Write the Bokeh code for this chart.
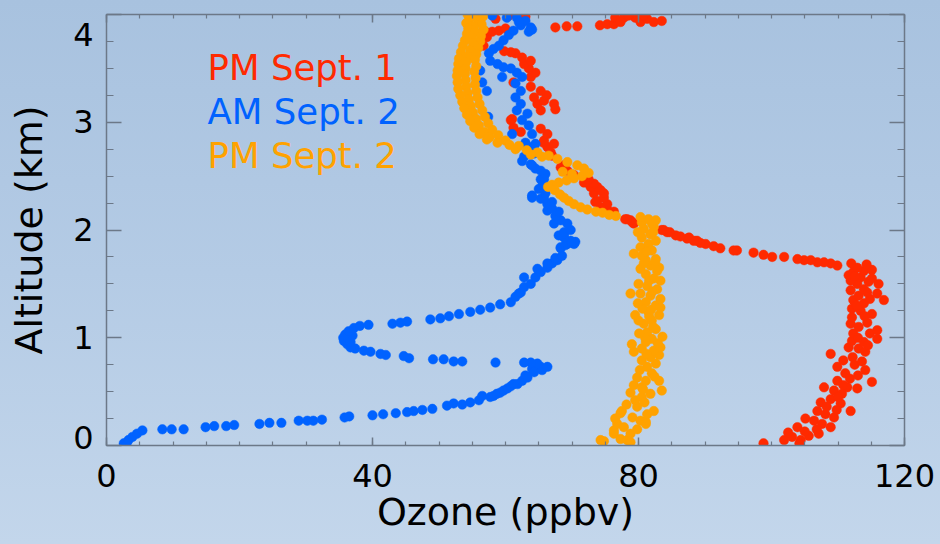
from bokeh.plotting import figure
from bokeh.models import LinearAxis, Range1d, Label, FixedTicker, ColumnDataSource, CustomLabelingPolicy
from bokeh.embed import file_html
from bokeh.resources import INLINE

# ---------------- data (ozone ppbv, altitude km) ----------------
series_names = ["PM Sept. 1", "AM Sept. 2", "PM Sept. 2"]
series_colors = ["#ff2a00", "#0062ff", "#ffa200"]

pm_sept1 = [
    (98.8, 0.02), (101.9, 0.05), (103.1, 0.08), (104.4, 0.05), (105.6, 0.09), (107.1, 0.11), (103.9, 0.17),
    (105.1, 0.25), (106.4, 0.23), (107.6, 0.20), (108.9, 0.17), (106.9, 0.32), (108.1, 0.29), (109.4, 0.26),
    (107.4, 0.40), (108.9, 0.43), (110.4, 0.39), (111.9, 0.32), (109.4, 0.51), (110.6, 0.48), (107.9, 0.54),
    (111.4, 0.54), (112.9, 0.53), (109.9, 0.60), (111.1, 0.67), (115.1, 0.59), (114.1, 0.70), (109.9, 0.73),
    (108.9, 0.85), (110.8, 0.79), (112.2, 0.82), (113.1, 0.90), (114.1, 0.87), (111.6, 0.91), (112.1, 0.97),
    (113.9, 0.96), (115.9, 0.99), (114.8, 1.04), (115.9, 1.07), (112.3, 1.04), (111.9, 1.13), (113.1, 1.10),
    (114.4, 1.14), (115.1, 1.22), (112.1, 1.19), (113.4, 1.25), (112.1, 1.27), (113.9, 1.32), (112.3, 1.35),
    (113.1, 1.39), (114.8, 1.36), (116.9, 1.35), (115.9, 1.41), (111.9, 1.44), (113.9, 1.45), (112.9, 1.50),
    (114.6, 1.52), (116.1, 1.50), (111.9, 1.53), (113.4, 1.56), (115.1, 1.55), (112.3, 1.61), (113.9, 1.62),
    (115.1, 1.63), (112.9, 1.65), (111.6, 1.58), (105.0, 0.13), (106.8, 0.15), (108.3, 0.36), (110.0, 0.45),
    (111.8, 0.62), (113.0, 0.65), (112.5, 0.75), (113.6, 0.78), (114.5, 0.93), (113.0, 1.00), (114.0, 1.20),
    (112.8, 1.30), (114.4, 1.42), (112.5, 1.57), (114.3, 1.68), (112.0, 1.69), (104.2, 0.02), (102.5, 0.12),
    (109.8, 0.33), (110.8, 0.56),
    (109.9, 1.67), (108.9, 1.69), (107.9, 1.70), (106.9, 1.70), (105.9, 1.72), (104.9, 1.72), (103.9, 1.73),
    (101.9, 1.75), (100.1, 1.75), (98.8, 1.77), (97.3, 1.79), (94.8, 1.81), (94.3, 1.81), (92.3, 1.83),
    (91.3, 1.85), (90.1, 1.87), (89.3, 1.88), (88.8, 1.90), (88.3, 1.90), (87.6, 1.93), (87.3, 1.92),
    (86.3, 1.94), (85.6, 1.95), (84.7, 1.98), (84.3, 1.98), (83.8, 2.00), (83.5, 2.00),
    (79.3, 2.06), (79.1, 2.07), (78.8, 2.09), (78.3, 2.10), (78.0, 2.10), (76.3, 2.17), (75.3, 2.19),
    (75.3, 2.24), (74.3, 2.21), (73.5, 2.26), (73.8, 2.27), (74.8, 2.30), (74.8, 2.34), (73.3, 2.34),
    (74.3, 2.37), (73.8, 2.40), (72.8, 2.40), (72.3, 2.44), (71.8, 2.44), (73.3, 2.43), (72.5, 2.47),
    (70.3, 2.51), (69.3, 2.55), (68.8, 2.60), (68.3, 2.58), (67.0, 2.69), (66.8, 2.72), (66.3, 2.77),
    (65.7, 2.81),
    (67.3, 2.80), (65.8, 2.83), (66.3, 2.89), (65.3, 2.94), (62.3, 2.91), (61.2, 2.95), (60.8, 3.02),
    (61.0, 3.03), (65.3, 3.11), (64.8, 3.17), (65.8, 3.20), (67.3, 3.17), (67.5, 3.12), (66.2, 3.25),
    (64.3, 3.23), (65.3, 3.29), (63.8, 3.33), (61.2, 3.37), (63.8, 3.42), (64.5, 3.46), (63.5, 3.50),
    (62.8, 3.54), (63.8, 3.57), (62.5, 3.60), (61.5, 3.64), (60.8, 3.65), (59.8, 3.66), (56.7, 3.71),
    (57.2, 3.79), (57.0, 3.84), (58.0, 3.84), (59.0, 3.85), (60.0, 3.87),
    (67.5, 3.88), (69.2, 3.89), (70.8, 3.89), (74.2, 3.90), (75.3, 3.91), (76.3, 3.91), (76.5, 3.97),
    (77.8, 3.97), (79.5, 3.97), (80.3, 3.93), (81.3, 3.96), (82.3, 3.93), (83.5, 3.94), (77.3, 3.93),
    (78.5, 3.99), (80.8, 3.99), (60.5, 3.99), (63.0, 3.98), (58.5, 3.96),
]

am_sept2 = [
    (2.6, 0.02), (3.0, 0.01), (3.3, 0.05), (3.9, 0.08), (4.6, 0.11), (5.4, 0.14), (8.4, 0.15), (9.8, 0.15),
    (11.6, 0.15), (14.9, 0.17), (16.2, 0.18), (18.0, 0.18), (19.2, 0.19), (23.0, 0.20), (24.5, 0.21),
    (26.3, 0.21), (28.9, 0.23), (30.2, 0.23), (31.1, 0.23), (32.4, 0.24), (35.8, 0.26), (36.5, 0.27),
    (40.0, 0.28), (41.6, 0.29), (43.5, 0.30), (45.2, 0.31), (46.2, 0.32), (47.5, 0.33), (49.0, 0.34),
    (51.2, 0.37), (52.2, 0.39), (53.5, 0.38), (54.7, 0.40), (56.0, 0.42), (56.5, 0.46), (57.7, 0.45),
    (58.2, 0.46), (58.7, 0.48), (59.2, 0.49), (59.7, 0.51), (60.3, 0.53), (60.8, 0.55), (61.2, 0.57),
    (61.8, 0.57), (62.5, 0.60), (63.0, 0.65), (63.3, 0.63), (64.0, 0.71), (64.3, 0.68), (65.3, 0.73),
    (65.5, 0.70), (66.3, 0.73), (64.8, 0.76), (63.8, 0.77), (62.8, 0.77),
    (58.5, 0.77), (53.5, 0.78), (52.2, 0.78), (50.7, 0.80), (49.1, 0.80), (45.5, 0.81), (44.7, 0.83),
    (42.0, 0.84), (41.2, 0.85), (39.7, 0.87), (38.7, 0.88), (37.4, 0.90), (36.7, 0.91), (36.2, 0.94),
    (35.7, 0.97), (35.6, 1.00), (36.3, 0.99), (36.7, 0.96), (37.0, 1.02), (35.9, 1.03), (36.4, 1.06),
    (37.2, 1.09), (38.1, 1.11), (39.4, 1.12),
    (43.0, 1.13), (44.2, 1.14), (45.2, 1.15), (48.7, 1.17), (50.2, 1.18), (51.5, 1.20), (53.0, 1.22),
    (54.7, 1.24), (56.2, 1.26), (57.7, 1.28), (59.2, 1.31), (60.8, 1.33), (61.5, 1.38), (62.0, 1.41),
    (62.3, 1.42), (62.8, 1.47), (63.8, 1.50), (62.8, 1.56), (64.5, 1.56), (65.3, 1.61), (64.8, 1.64),
    (66.3, 1.65), (67.0, 1.69), (66.3, 1.69), (67.8, 1.72), (67.5, 1.74), (68.5, 1.76), (68.3, 1.83),
    (68.3, 1.84), (69.0, 1.86), (69.3, 1.87), (70.3, 1.87), (70.5, 1.89), (69.8, 1.90), (68.8, 1.93),
    (68.0, 1.95), (68.8, 1.96), (68.8, 1.98), (69.8, 2.00), (67.3, 2.06), (69.3, 2.06), (68.3, 2.09),
    (67.5, 2.13), (68.0, 2.17), (66.3, 2.18), (67.0, 2.20), (66.3, 2.24), (67.0, 2.26), (65.8, 2.29),
    (65.3, 2.29), (64.0, 2.30), (64.0, 2.32), (66.0, 2.34), (65.0, 2.38), (65.6, 2.42), (65.3, 2.47),
    (65.8, 2.47), (66.0, 2.52), (64.5, 2.57), (65.3, 2.55), (64.0, 2.60), (63.8, 2.61), (62.5, 2.64),
    (64.3, 2.71), (62.8, 2.68), (63.5, 2.77), (63.0, 2.81), (64.5, 2.80),
    (64.0, 2.89), (61.0, 2.89), (63.5, 2.97), (62.5, 3.02), (57.4, 3.05), (63.3, 3.08), (61.7, 3.11),
    (62.3, 3.17), (61.5, 3.23), (62.3, 3.29), (57.2, 3.29), (61.5, 3.36), (56.5, 3.37), (62.5, 3.42),
    (59.5, 3.42), (61.7, 3.46), (56.2, 3.48), (60.8, 3.50), (59.7, 3.51), (58.8, 3.54), (57.7, 3.57),
    (57.5, 3.64), (58.2, 3.68), (59.0, 3.71), (59.7, 3.76), (60.5, 3.81), (61.2, 3.85), (62.3, 3.90),
    (63.8, 3.88), (63.0, 3.94), (61.7, 3.97), (60.2, 3.97), (58.0, 3.99), (63.5, 3.84), (64.0, 3.86),
    (62.0, 3.93),
]

pm_sept2 = [
    (54.3, 4.00), (55.6, 3.99), (56.6, 3.98), (54.6, 3.96), (55.9, 3.94), (54.1, 3.92), (56.4, 3.91),
    (55.2, 3.89), (54.4, 3.87), (56.7, 3.86), (55.5, 3.84), (54.2, 3.82), (56.3, 3.80), (55.0, 3.78),
    (53.9, 3.76), (56.2, 3.75), (55.1, 3.73), (53.6, 3.71), (55.9, 3.69), (54.7, 3.67), (53.3, 3.65),
    (55.6, 3.63), (54.3, 3.61), (53.0, 3.59), (55.4, 3.58), (54.1, 3.56), (52.9, 3.54), (55.6, 3.52),
    (54.0, 3.50), (52.8, 3.48), (55.3, 3.47), (53.9, 3.45), (52.7, 3.43), (55.5, 3.41), (54.0, 3.39),
    (52.8, 3.37), (55.4, 3.35), (54.1, 3.33), (52.9, 3.31), (55.6, 3.29), (54.3, 3.27), (53.2, 3.25),
    (55.8, 3.23), (54.5, 3.21), (53.5, 3.19), (56.1, 3.17), (54.8, 3.15), (53.8, 3.13), (56.5, 3.11),
    (55.1, 3.09), (54.2, 3.07), (56.9, 3.05), (55.6, 3.03), (54.7, 3.01), (57.4, 2.99), (56.0, 2.97),
    (55.3, 2.95), (58.0, 2.93), (56.8, 2.91), (56.1, 2.89), (58.9, 2.88), (57.6, 2.86), (57.2, 2.84),
    (60.0, 2.83), (58.8, 2.81), (60.6, 2.79), (62.0, 2.78), (61.5, 2.75), (63.2, 2.74), (64.8, 2.72),
    (66.5, 2.69), (67.8, 2.66), (69.3, 2.63), (70.8, 2.60), (71.8, 2.57), (72.5, 2.53), (71.5, 2.50),
    (70.3, 2.48), (69.2, 2.46), (68.0, 2.44), (67.0, 2.42), (66.4, 2.40), (67.4, 2.37), (68.2, 2.33),
    (68.8, 2.30), (69.5, 2.27), (70.3, 2.24), (71.3, 2.21), (72.3, 2.19), (73.6, 2.17), (74.6, 2.16),
    (75.6, 2.14), (76.6, 2.13), (70.0, 2.52), (68.6, 2.54), (65.5, 2.68), (63.8, 2.70),
    (74.3, 0.05), (74.8, 0.04), (76.3, 0.11), (77.3, 0.06), (78.3, 0.05), (78.8, 0.03), (78.8, 0.11),
    (76.3, 0.14), (76.8, 0.20), (77.8, 0.17), (76.5, 0.25), (77.5, 0.32), (77.3, 0.30), (79.1, 0.26),
    (80.3, 0.23), (81.1, 0.22), (81.1, 0.20), (79.8, 0.36), (81.3, 0.29), (82.3, 0.32), (79.5, 0.42),
    (80.5, 0.45), (81.8, 0.48), (78.8, 0.49), (79.3, 0.56), (80.5, 0.54), (83.5, 0.51), (79.8, 0.63),
    (81.1, 0.60), (82.0, 0.67), (83.1, 0.60), (81.3, 0.73), (82.6, 0.76), (80.5, 0.79), (81.8, 0.82),
    (83.1, 0.84), (79.3, 0.87), (80.5, 0.90), (82.3, 0.88), (83.3, 0.91), (79.0, 0.94), (81.1, 0.96),
    (82.0, 0.99), (83.6, 1.01), (81.3, 1.05), (82.6, 1.08), (80.8, 1.13), (82.0, 1.16), (80.0, 1.16),
    (83.1, 1.21), (81.5, 1.24), (79.5, 1.21), (82.6, 1.30), (81.1, 1.33), (83.3, 1.28), (83.3, 1.36),
    (81.8, 1.39), (80.3, 1.41), (78.8, 1.41), (82.8, 1.45), (81.3, 1.48), (80.0, 1.50), (82.3, 1.55),
    (83.3, 1.53), (81.1, 1.59), (82.8, 1.62), (80.3, 1.64), (83.1, 1.65), (81.8, 1.67), (81.1, 1.72),
    (82.6, 1.73), (80.5, 1.76), (79.3, 1.78), (82.0, 1.81), (80.3, 1.84), (81.5, 1.87), (82.6, 1.90),
    (80.5, 1.93), (81.8, 1.96), (80.8, 2.01), (82.3, 2.03), (80.5, 2.07), (82.0, 2.06), (81.5, 2.10),
    (82.6, 2.09), (80.3, 2.12), (81.0, 1.00), (82.2, 1.10), (81.6, 1.20), (80.6, 1.27), (82.1, 1.43),
    (81.6, 1.53), (80.8, 1.69), (81.2, 1.80), (82.2, 1.98), (81.2, 0.85), (80.2, 0.70), (82.4, 0.64),
    (80.9, 0.40), (78.2, 0.38), (79.8, 0.15), (80.7, 0.52), (82.9, 0.95), (80.1, 1.04), (81.9, 1.26),
    (79.9, 1.32), (82.5, 1.70), (79.9, 1.98),
]

x_ticks = [0, 40, 80, 120]
y_ticks = [0, 1, 2, 3, 4]
x_label = "Ozone (ppbv)"
y_label = "Altitude (km)"

# ---------------- figure ----------------
FONT = "DejaVu Sans"
AX = "#6c7888"

p = figure(width=940, height=544, x_range=Range1d(0, 120), y_range=Range1d(0, 4),
           output_backend="svg", toolbar_location=None,
           min_border_left=106, min_border_right=36, min_border_top=14, min_border_bottom=99)
p.background_fill_alpha = 0
p.border_fill_alpha = 0
p.outline_line_color = None
p.grid.visible = False
p.styles = {"background": "linear-gradient(to bottom, #a8c2df 0%, #b4cbe5 50%, #c3d6eb 100%)"}

xt = FixedTicker(ticks=x_ticks, minor_ticks=[v * 5 for v in range(0, 25)])
yt = FixedTicker(ticks=y_ticks, minor_ticks=[v * 0.25 for v in range(0, 17)])

hide_all = CustomLabelingPolicy(code="""
for (const i of Array.from(indices)) { indices.unset(i) }
return indices
""")


def style(ax, major_in, minor_in, show_labels):
    ax.axis_line_color = AX
    ax.axis_line_width = 1.5
    ax.major_tick_line_color = AX
    ax.minor_tick_line_color = AX
    ax.major_tick_line_width = 1.5
    ax.minor_tick_line_width = 1.2
    ax.major_tick_in = major_in
    ax.major_tick_out = 0
    ax.minor_tick_in = minor_in
    ax.minor_tick_out = 0
    if show_labels:
        ax.major_label_text_font = FONT
        ax.major_label_text_font_size = "32px"
        ax.major_label_text_color = "black"
        ax.axis_label_text_font = FONT
        ax.axis_label_text_font_style = "normal"
        ax.axis_label_text_color = "black"
    else:
        ax.major_label_text_font_size = "1px"
        ax.major_label_standoff = 0
        ax.major_label_policy = hide_all


xa = p.xaxis[0]
xa.ticker = xt
style(xa, 8, 4, True)
xa.major_label_standoff = 18
xa.axis_label = x_label
xa.axis_label_text_font_size = "38px"
xa.axis_label_standoff = 0

ya = p.yaxis[0]
ya.ticker = yt
style(ya, 15, 7, True)
ya.major_label_standoff = 13
ya.major_label_text_line_height = 0.42
ya.major_label_overrides = {4: "\n4", 0: "0\n"}
ya.axis_label = y_label
ya.axis_label_text_font_size = "38px"
ya.axis_label_standoff = 19

top = LinearAxis(ticker=xt)
style(top, 8, 4, False)
p.add_layout(top, "above")
right = LinearAxis(ticker=yt)
style(right, 15, 7, False)
p.add_layout(right, "right")

for pts, color in zip([pm_sept1, am_sept2, pm_sept2], series_colors):
    src = ColumnDataSource(dict(oz=[o for o, a in pts], alt=[a for o, a in pts]))
    p.scatter("oz", "alt", source=src, size=9.5, fill_color=color, line_color=color, line_width=0.5)

# legend text
legend_y = [3.51, 3.10, 2.69]
for name, color, yy in zip(series_names, series_colors, legend_y):
    p.add_layout(Label(x=15.2, y=yy, text=name, text_color=color, text_font=FONT,
                       text_font_size="35.5px", text_baseline="alphabetic", text_align="left"))

open("out.html", "w").write(file_html(p, INLINE))
